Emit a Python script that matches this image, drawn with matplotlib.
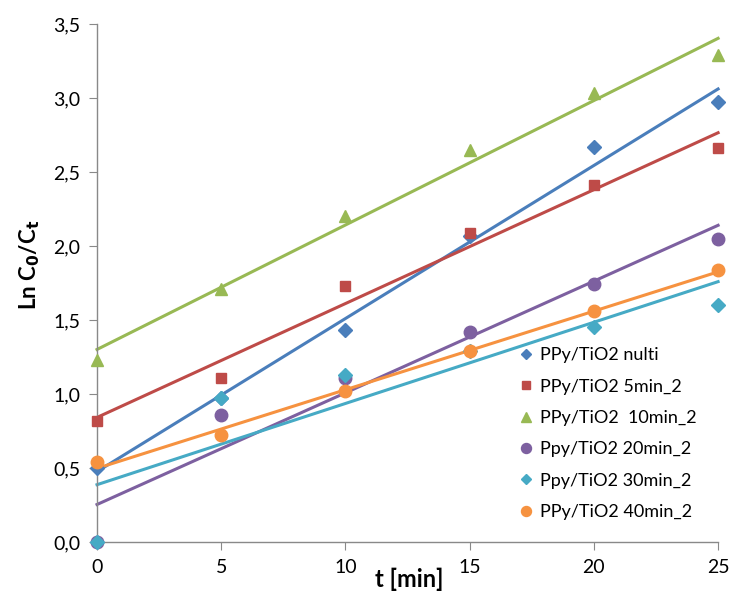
import matplotlib.pyplot as plt
import numpy as np
from matplotlib.ticker import FuncFormatter, MultipleLocator

plt.rcParams['font.family'] = ['Lato', 'DejaVu Sans']

t = [0, 5, 10, 15, 20, 25]
nulti = [0.50, 0.97, 1.43, 2.07, 2.67, 2.97]
min5 = [0.82, 1.11, 1.73, 2.09, 2.41, 2.66]
min10 = [1.23, 1.71, 2.20, 2.65, 3.03, 3.29]
min20 = [0.00, 0.86, 1.11, 1.42, 1.74, 2.05]
min30 = [0.00, 0.97, 1.13, 1.29, 1.45, 1.60]
min40 = [0.54, 0.72, 1.02, 1.29, 1.56, 1.84]

labels = ['PPy/TiO2 nulti', 'PPy/TiO2 5min_2', 'PPy/TiO2  10min_2',
          'Ppy/TiO2 20min_2', 'Ppy/TiO2 30min_2', 'PPy/TiO2 40min_2']
series = [nulti, min5, min10, min20, min30, min40]
colors = ['#4a7ebb', '#be4b48', '#98b954', '#7d60a0', '#46aac5', '#f69240']
markers = ['D', 's', '^', 'o', 'D', 'o']
msizes = [7, 7.5, 9, 9, 7, 9]

fig = plt.figure(figsize=(7.35, 5.97), dpi=100)
ax = fig.add_axes([0.132, 0.092, 0.845, 0.868])

xs = np.array([0, 25])
for ys, c, m, ms, lab in zip(series, colors, markers, msizes, labels):
    k, b = np.polyfit(t, ys, 1)
    ax.plot(xs, k * xs + b, color=c, lw=2.2, zorder=2, clip_on=False)
    ax.plot(t, ys, linestyle='none', marker=m, color=c, markersize=ms,
            label=lab, zorder=3, clip_on=False)

ax.set_xlim(0, 25)
ax.set_ylim(0, 3.5)
ax.xaxis.set_major_locator(MultipleLocator(5))
ax.yaxis.set_major_locator(MultipleLocator(0.5))
ax.yaxis.set_major_formatter(FuncFormatter(lambda v, p: f'{v:.1f}'.replace('.', ',')))
for s in ['top', 'right']:
    ax.spines[s].set_visible(False)
for s in ['left', 'bottom']:
    ax.spines[s].set_color('#898989')
    ax.spines[s].set_linewidth(1)
ax.tick_params(direction='out', length=6, color='#898989', labelsize=14, pad=6)

fig.text(409 / 735, 1 - 579 / 597, 't [min]', fontsize=17, fontweight='bold',
         ha='center', va='center')
fig.text(30 / 735, 1 - 265 / 597, r'Ln C$_\mathbf{0}$/C$_\mathbf{t}$', fontsize=16,
         fontweight='bold', rotation=90, ha='center', va='center')

ax.legend(loc='upper left', bbox_to_anchor=(0.662, 0.39), frameon=False,
          fontsize=13, handletextpad=0.15, labelspacing=0.85, handlelength=1.2,
          borderaxespad=0, markerscale=0.8)

fig.savefig('out.png', dpi=100)
